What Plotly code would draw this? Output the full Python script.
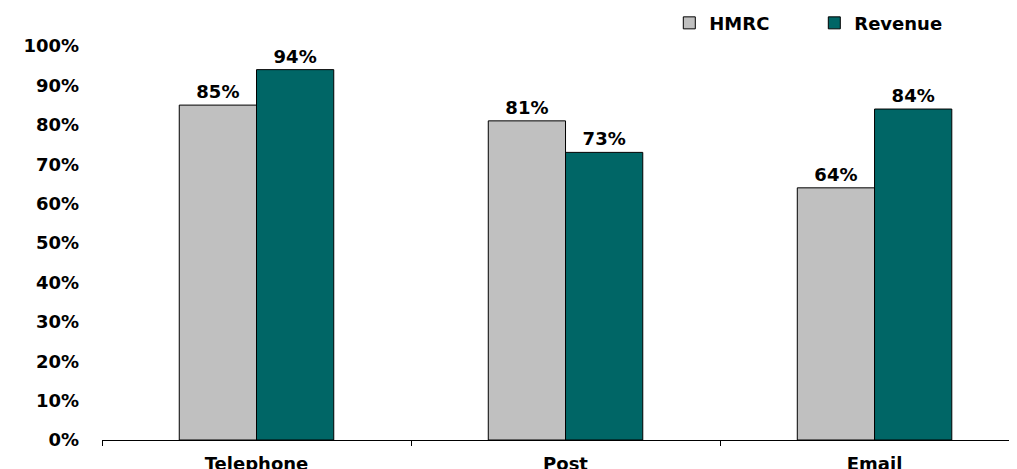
import plotly.graph_objects as go

categories = ["Telephone", "Post", "Email"]
hmrc = [0.85, 0.81, 0.64]
revenue = [0.94, 0.73, 0.84]
y_ticks = [0, 0.1, 0.2, 0.3, 0.4, 0.5, 0.6, 0.7, 0.8, 0.9, 1.0]
y_ticktext = ["0%", "10%", "20%", "30%", "40%", "50%", "60%", "70%", "80%", "90%", "100%"]

FONT = "DejaVu Sans"
x_idx = list(range(len(categories)))

fig = go.Figure()
fig.add_trace(go.Bar(
    name="HMRC", x=x_idx, y=hmrc,
    marker=dict(color="#C0C0C0", line=dict(color="black", width=1)),
    text=[f"{v*100:.0f}%" for v in hmrc], textposition="outside",
    textfont=dict(family=FONT, size=18, color="black", weight="bold"),
    cliponaxis=False,
))
fig.add_trace(go.Bar(
    name="Revenue", x=x_idx, y=revenue,
    marker=dict(color="#006666", line=dict(color="black", width=1)),
    text=[f"{v*100:.0f}%" for v in revenue], textposition="outside",
    textfont=dict(family=FONT, size=18, color="black", weight="bold"),
    cliponaxis=False,
))

fig.update_layout(
    width=1009, height=461,
    margin=dict(l=94, r=0, t=38, b=29, autoexpand=False),
    paper_bgcolor="white", plot_bgcolor="white",
    barmode="group", bargap=0.5, bargroupgap=0,
    font=dict(family=FONT, size=18, color="black", weight="bold"),
    showlegend=True,
    legend=dict(orientation="h", x=0.620, y=1.058, xanchor="left", yanchor="middle",
                font=dict(family=FONT, size=18, color="black", weight="bold"),
                itemwidth=30, tracegroupgap=0, entrywidth=100,
                bgcolor="rgba(0,0,0,0)"),
    xaxis=dict(
        range=[-0.5, 2.461], tickmode="array", tickvals=x_idx, ticktext=categories,
        showline=True, linecolor="black", linewidth=1, ticks="", showgrid=False,
        zeroline=False, ticklabelstandoff=7,
        minor=dict(tickmode="array", tickvals=[-0.5, 0.5, 1.5], ticks="outside",
                   ticklen=5, tickcolor="black", tickwidth=1, showgrid=False),
    ),
    yaxis=dict(
        range=[0, 1], tickmode="array", tickvals=y_ticks, ticktext=y_ticktext,
        showline=False, showgrid=False, zeroline=False, ticks="",
        ticklabelstandoff=22,
    ),
)

fig.write_html("out.html")
